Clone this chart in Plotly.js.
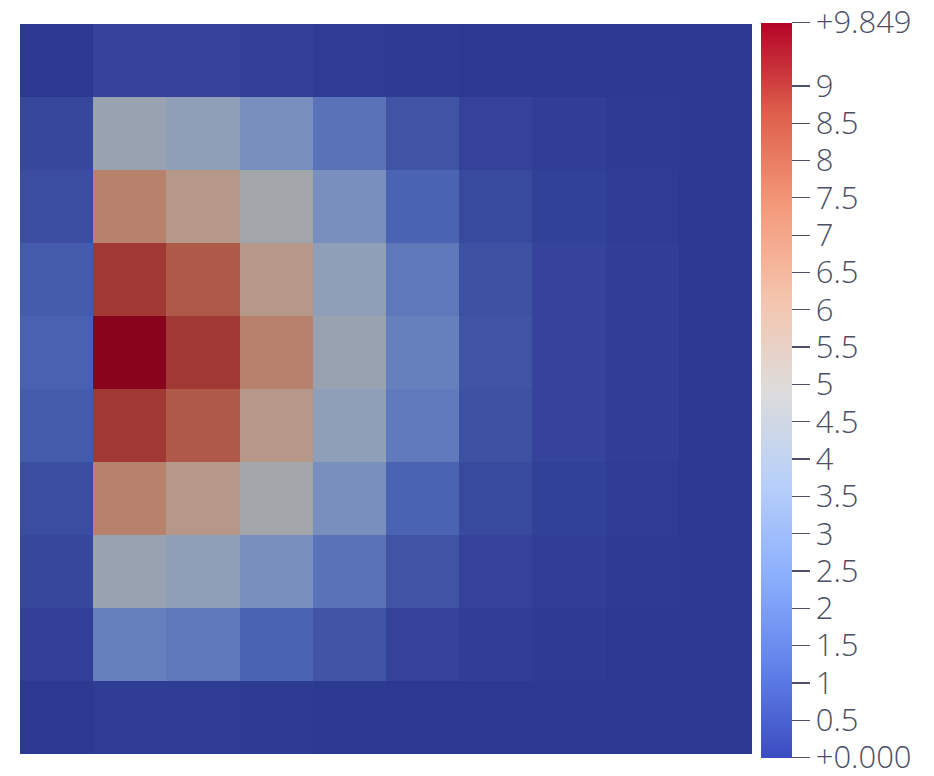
<!DOCTYPE html>
<html>
<head>
<meta charset="utf-8">
<script src="https://cdn.plot.ly/plotly-3.0.1.min.js"></script>
<style>
  html, body { margin: 0; padding: 0; background: #ffffff; }
  #plot { width: 934px; height: 776px; }
</style>
</head>
<body>
<div id="plot"></div>
<script>
// cell values, row 0 is the top row of the picture
const cols = [0, 1, 2, 3, 4, 5, 6, 7, 8, 9];
const rows = [0, 1, 2, 3, 4, 5, 6, 7, 8, 9];
const field = [
  [0.0, 0.3,   0.3, 0.2, 0.1,  0.05, 0.0,  0.0,  0.0,  0.0],
  [0.4, 4.3,   3.9, 3.0, 1.85, 0.8,  0.3,  0.15, 0.05, 0.0],
  [0.6, 6.9,   5.9, 4.7, 3.0,  1.3,  0.5,  0.25, 0.1,  0.0],
  [1.0, 8.9,   8.1, 5.9, 3.9,  2.0,  0.7,  0.35, 0.15, 0.0],
  [1.2, 9.849, 8.9, 6.9, 4.3,  2.3,  0.8,  0.35, 0.15, 0.0],
  [1.0, 8.9,   8.1, 5.9, 3.9,  2.1,  0.7,  0.35, 0.15, 0.0],
  [0.6, 6.9,   5.9, 4.7, 3.0,  1.3,  0.5,  0.25, 0.1,  0.0],
  [0.4, 4.3,   3.9, 3.0, 1.85, 0.8,  0.3,  0.15, 0.05, 0.0],
  [0.2, 2.3,   2.0, 1.3, 0.8,  0.3,  0.15, 0.05, 0.0,  0.0],
  [0.0, 0.1,   0.1, 0.05, 0.0, 0.0,  0.0,  0.0,  0.0,  0.0]
];
const zmin = 0.0;
const zmax = 9.849;
const tickVals = [0, 0.5, 1, 1.5, 2, 2.5, 3, 3.5, 4, 4.5, 5, 5.5, 6, 6.5, 7, 7.5, 8, 8.5, 9, 9.849];
const tickText = ['+0.000', '0.5', '1', '1.5', '2', '2.5', '3', '3.5', '4', '4.5', '5', '5.5',
                  '6', '6.5', '7', '7.5', '8', '8.5', '9', '+9.849'];

const coolwarm = [
  [0.0,   'rgb(59,76,192)'],
  [0.125, 'rgb(98,130,234)'],
  [0.25,  'rgb(141,176,254)'],
  [0.375, 'rgb(184,208,249)'],
  [0.5,   'rgb(221,220,219)'],
  [0.625, 'rgb(245,196,173)'],
  [0.75,  'rgb(244,154,123)'],
  [0.875, 'rgb(222,96,77)'],
  [1.0,   'rgb(180,4,38)']
];

const textColor = '#4b5066';

const heat = {
  type: 'heatmap',
  x: cols,
  y: rows,
  z: field,
  zmin: zmin,
  zmax: zmax,
  colorscale: coolwarm,
  zsmooth: false,
  hoverinfo: 'z',
  colorbar: {
    thickness: 31,
    lenmode: 'pixels',
    len: 735,
    x: 1.0123,
    xanchor: 'left',
    xpad: 0,
    y: 1.002,
    yanchor: 'top',
    ypad: 0,
    outlinewidth: 0,
    tickmode: 'array',
    tickvals: tickVals,
    ticktext: tickText,
    ticks: 'outside',
    ticklen: 18,
    tickwidth: 1.3,
    tickcolor: textColor,
    ticklabeloverflow: 'allow',
    tickfont: {family: 'Open Sans, Liberation Sans, sans-serif', size: 31, weight: 300, color: textColor}
  }
};

const layout = {
  width: 934,
  height: 776,
  margin: {l: 20, r: 182, t: 24, b: 22},
  paper_bgcolor: '#ffffff',
  plot_bgcolor: '#ffffff',
  showlegend: false,
  xaxis: {
    range: [-0.5, 9.5],
    showgrid: false, zeroline: false, showticklabels: false, ticks: '',
    fixedrange: true
  },
  yaxis: {
    range: [9.5, -0.5],
    showgrid: false, zeroline: false, showticklabels: false, ticks: '',
    fixedrange: true
  },
  // shading of the rendered surface: darkens the cells, not the colour bar
  shapes: [{
    type: 'rect', xref: 'paper', yref: 'paper',
    x0: 0, x1: 1, y0: 0, y1: 1,
    fillcolor: 'rgba(0,0,0,0.245)', line: {width: 0}, layer: 'above'
  }]
};

Plotly.newPlot('plot', [heat], layout, {displayModeBar: false, staticPlot: true});
</script>
</body>
</html>
